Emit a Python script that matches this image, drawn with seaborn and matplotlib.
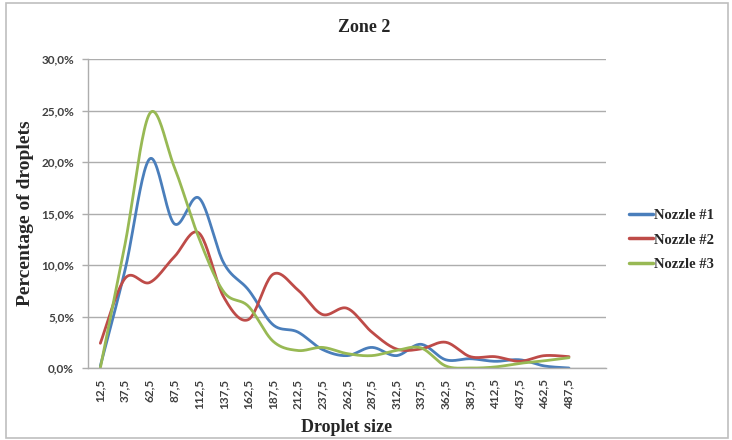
import numpy as np
import pandas as pd
import matplotlib
matplotlib.use("Agg")
import matplotlib.pyplot as plt
import seaborn as sns
from matplotlib.patches import Rectangle
from matplotlib.ticker import FuncFormatter, FixedLocator

# ---- data (percent of droplets) ----
droplet_sizes = ["12,5", "37,5", "62,5", "87,5", "112,5", "137,5", "162,5", "187,5",
                 "212,5", "237,5", "262,5", "287,5", "312,5", "337,5", "362,5",
                 "387,5", "412,5", "437,5", "462,5", "487,5"]
nozzle1 = [0.2, 9.5, 20.3, 14.0, 16.5, 10.2, 7.6, 4.2, 3.5, 1.8,
           1.2, 2.0, 1.2, 2.3, 0.8, 0.9, 0.65, 0.8, 0.2, 0.0]
nozzle2 = [2.4, 8.7, 8.3, 10.8, 13.1, 6.9, 4.7, 9.1, 7.6, 5.2,
           5.8, 3.5, 1.85, 1.85, 2.5, 1.1, 1.1, 0.65, 1.2, 1.1]
nozzle3 = [0.0, 12.0, 24.7, 19.5, 12.6, 7.4, 6.0, 2.6, 1.7, 2.0,
           1.4, 1.2, 1.7, 1.95, 0.2, 0.0, 0.1, 0.45, 0.7, 1.0]
series_names = ["Nozzle #1", "Nozzle #2", "Nozzle #3"]
series_values = [nozzle1, nozzle2, nozzle3]
colors = ["#4A7EBB", "#BE4B48", "#98B954"]
y_ticks = [0, 5, 10, 15, 20, 25, 30]


def smooth_curve(values, steps=24):
    """Excel-like smoothed line rendering (Catmull-Rom as cubic Bezier)."""
    x = np.arange(len(values), dtype=float)
    y = np.asarray(values, dtype=float)
    pts = np.column_stack([x, y])
    P = np.vstack([pts[0], pts, pts[-1]])
    out = []
    t = np.linspace(0, 1, steps)[:, None]
    for i in range(1, len(P) - 2):
        p0, p1, p2, p3 = P[i - 1], P[i], P[i + 1], P[i + 2]
        b1 = p1 + (p2 - p0) / 6.0
        b2 = p2 - (p3 - p1) / 6.0
        seg = ((1 - t) ** 3) * p1 + 3 * ((1 - t) ** 2) * t * b1 + 3 * (1 - t) * t ** 2 * b2 + t ** 3 * p2
        out.append(seg if i == 1 else seg[1:])
    c = np.vstack(out)
    return c[:, 0], c[:, 1]


frames = []
for name, vals in zip(series_names, series_values):
    sx, sy = smooth_curve(vals)
    frames.append(pd.DataFrame({"pos": sx, "pct": sy, "series": name,
                                "order": np.arange(len(sx))}))
df = pd.concat(frames, ignore_index=True)

sns.set_style("white")
plt.rcParams["font.family"] = ["DejaVu Sans"]

fig = plt.figure(figsize=(7.32, 4.40), dpi=100)
ax = fig.add_axes([88 / 732, 1 - 368 / 440, (606 - 88) / 732, (368 - 59) / 440])

sns.lineplot(data=df, x="pos", y="pct", hue="series", palette=colors,
             hue_order=series_names, sort=False, estimator=None, units="series",
             linewidth=2.0, ax=ax, legend=False)

ax.set_xlim(-0.5, 20.5)
ax.set_ylim(0, 30)
ax.yaxis.set_major_locator(FixedLocator(y_ticks))
ax.yaxis.set_major_formatter(FuncFormatter(lambda v, p: f"{v:.1f}%".replace(".", ",")))
ax.set_xticks(range(len(droplet_sizes)))
ax.set_xticklabels(droplet_sizes, rotation=90)

for lab in ax.get_yticklabels() + ax.get_xticklabels():
    lab.set_fontfamily("Lato")
    lab.set_fontsize(8.5)
    lab.set_color("#404040")
    lab.set_fontweight("bold")

ax.grid(axis="y", color="#ADADAD", linewidth=1.0)
ax.grid(axis="x", visible=False)
for s in ["top", "right"]:
    ax.spines[s].set_visible(False)
for s in ["left", "bottom"]:
    ax.spines[s].set_color("#ADADAD")
    ax.spines[s].set_linewidth(1.0)
ax.tick_params(axis="y", length=4, color="#ADADAD", width=1, pad=6, left=True)
ax.tick_params(axis="x", length=0, pad=8)

ax.set_xlabel("Droplet size", family="Liberation Serif", fontweight="bold", fontsize=13, labelpad=7)
ax.set_ylabel("Percentage of droplets", family="Liberation Serif", fontweight="bold", fontsize=14, labelpad=5)
fig.text(364 / 732, 1 - 27 / 440, "Zone 2", family="Liberation Serif", fontweight="bold",
         fontsize=13, ha="center", va="center")

handles = [plt.Line2D([], [], color=c, linewidth=2.5) for c in colors]
leg = fig.legend(handles, series_names, loc="center left",
                 bbox_to_anchor=(622 / 732, 1 - 240 / 440), frameon=False,
                 prop=dict(family="Liberation Serif", weight="bold", size=10.5),
                 handlelength=1.6, handletextpad=0.1, labelspacing=0.75, borderpad=0)

fig.patches.append(Rectangle((6 / 732, 2 / 440), 722 / 732, 435 / 440, transform=fig.transFigure,
                             fill=False, edgecolor="#BFBFBF", linewidth=1.2))

fig.savefig("out.png", dpi=100)
